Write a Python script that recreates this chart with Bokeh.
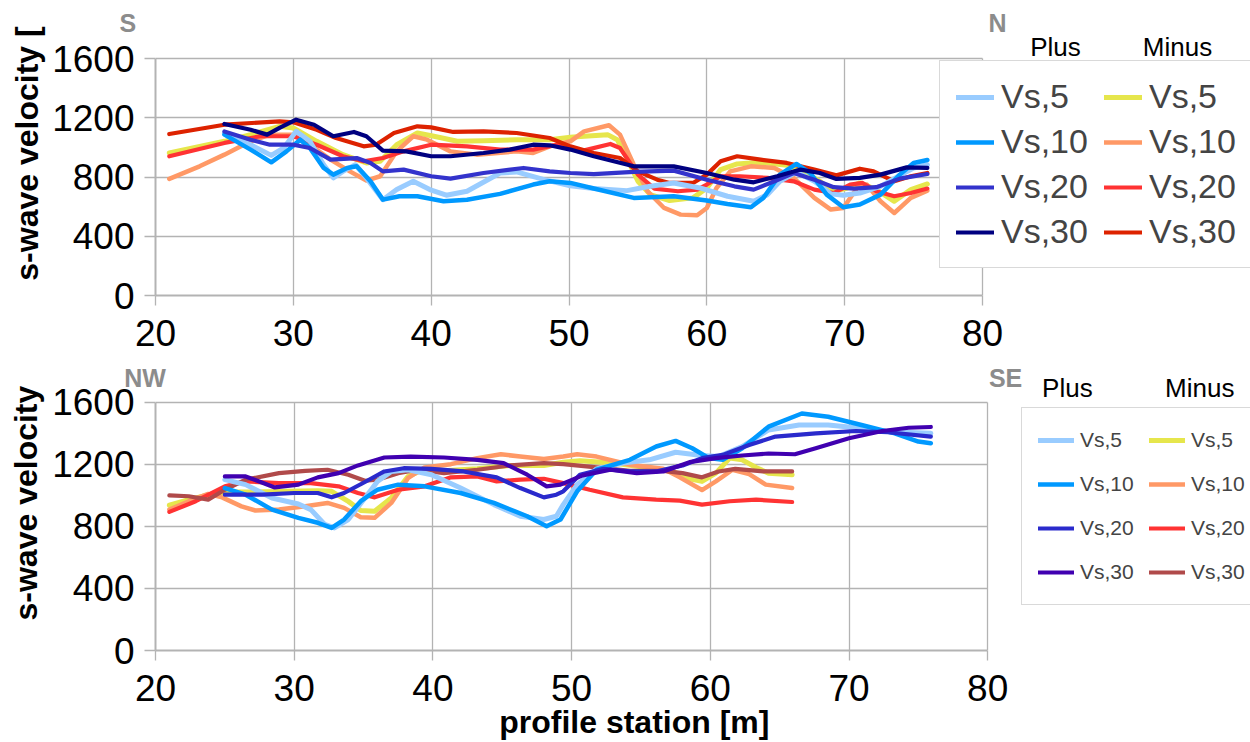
from bokeh.plotting import figure
from bokeh.layouts import column
from bokeh.models import Range1d, FixedTicker, Legend, LegendItem, LinearAxis
from bokeh.embed import file_html
from bokeh.resources import INLINE

# ---------------- data ----------------
x_ticks = [20, 30, 40, 50, 60, 70, 80]
y_ticks = [0, 400, 800, 1200, 1600]
legend_labels = ["Vs,5", "Vs,10", "Vs,20", "Vs,30"]

top_plus_vs5_x = [25, 26.9, 28.4, 29.3, 30.2, 31.2, 32.2, 32.9, 33.6, 34.5, 35.3, 36.5, 37.5, 38.7, 39.9, 41.1, 42.6, 45, 46.2, 48.2, 50.1, 51.8, 54.2, 55.9, 57.6, 59.5, 61.5, 63.4, 64.4, 65.3, 66.5, 67.8, 69, 69.9, 71.1, 72.6, 74, 75, 76]
top_plus_vs5_y = [1097, 1018, 946, 996, 1108, 1041, 883, 794, 838, 883, 794, 647, 715, 771, 715, 677, 704, 827, 834, 782, 740, 722, 708, 737, 760, 726, 670, 636, 681, 771, 834, 771, 686, 677, 692, 737, 811, 861, 883]
top_plus_vs10_x = [25, 26.9, 28.4, 29.5, 30.5, 31.2, 32.2, 32.9, 33.9, 34.6, 35.6, 36.5, 37.7, 39, 40.9, 42.6, 45, 47.4, 48.6, 50.1, 51.8, 54.7, 57.6, 60, 61.5, 63.2, 64.1, 65.3, 66.5, 67.5, 68.7, 69.9, 71.1, 72.6, 74, 75, 76]
top_plus_vs10_y = [1086, 985, 899, 973, 1052, 996, 861, 816, 861, 872, 771, 647, 670, 670, 636, 647, 686, 749, 771, 760, 722, 659, 670, 641, 618, 596, 659, 816, 888, 827, 681, 596, 614, 681, 816, 895, 915]
top_plus_vs20_x = [25, 26.9, 28.3, 30, 31.2, 32.7, 34.6, 35.6, 36.5, 38, 40, 41.4, 43.8, 46.7, 48.6, 50.1, 51.8, 54.7, 57.6, 60, 62, 63.4, 64.9, 66.3, 67.8, 69.2, 70.7, 72.3, 74, 76]
top_plus_vs20_y = [1108, 1052, 1018, 1018, 996, 917, 928, 895, 838, 850, 805, 789, 827, 861, 838, 827, 820, 834, 843, 782, 737, 715, 771, 827, 782, 731, 722, 731, 789, 820]
top_plus_vs30_x = [25, 26.9, 28.1, 29, 30.2, 31.5, 32.9, 34.4, 35.3, 36.5, 38.2, 40, 41.4, 43.8, 45.7, 47.4, 48.6, 50.1, 51.8, 54.7, 57.6, 60, 62, 63.4, 65.1, 66.8, 68.2, 69.4, 71.1, 72.6, 74.5, 76]
top_plus_vs30_y = [1158, 1119, 1086, 1131, 1187, 1153, 1075, 1104, 1075, 978, 973, 940, 940, 962, 985, 1018, 1014, 985, 940, 872, 872, 827, 782, 764, 805, 850, 827, 787, 794, 816, 865, 861]
top_minus_vs5_x = [21, 25, 26.9, 29, 30, 31.7, 33.6, 35.3, 36.3, 37.5, 39, 40.2, 41.9, 43.8, 46.2, 48.6, 50.1, 51.1, 52.8, 53.5, 54.2, 55, 55.9, 57.3, 59, 60, 61, 62.2, 63.9, 65.8, 66.8, 68.2, 69.2, 70.2, 71.1, 72.3, 73.6, 74.8, 76]
top_minus_vs5_y = [962, 1041, 1086, 1142, 1131, 1041, 951, 895, 906, 1018, 1097, 1075, 1041, 1045, 1052, 1052, 1068, 1075, 1086, 1052, 928, 771, 681, 641, 659, 726, 850, 888, 899, 879, 850, 771, 704, 726, 760, 715, 636, 715, 753]
top_minus_vs10_x = [21, 23.2, 25, 26.9, 28.3, 30, 31.2, 32.7, 34.1, 35.3, 36.3, 37.5, 38.7, 39.7, 41.4, 43.3, 46.2, 47.4, 48.6, 50.1, 51.1, 52.9, 53.7, 54.7, 55.7, 56.9, 58.1, 59.3, 60, 60.7, 61.7, 63.2, 64.9, 66.3, 67.8, 69, 69.9, 70.9, 71.6, 72.6, 73.6, 74.8, 76]
top_minus_vs10_y = [787, 872, 951, 1041, 1086, 1086, 1018, 917, 838, 776, 805, 973, 1075, 1052, 973, 951, 973, 962, 1007, 1041, 1108, 1149, 1086, 883, 704, 591, 546, 542, 591, 726, 838, 872, 861, 794, 659, 580, 591, 726, 749, 636, 557, 659, 708]
top_minus_vs20_x = [21, 25, 27.6, 30, 31.7, 33.6, 35.1, 36.5, 38, 40, 42.6, 45, 47.4, 49.4, 50.8, 53, 53.7, 55, 56.2, 57.9, 59.3, 60, 61, 62.4, 64.4, 66.3, 67.8, 69.2, 70.4, 71.3, 72.3, 73.6, 74.8, 76]
top_minus_vs20_y = [940, 1030, 1075, 1075, 1018, 940, 906, 928, 973, 1018, 1007, 985, 985, 1023, 973, 1023, 996, 816, 722, 704, 715, 749, 805, 805, 794, 771, 715, 692, 749, 760, 704, 670, 692, 722]
top_minus_vs30_x = [21, 25, 29, 30, 31.7, 33.1, 35.1, 36, 37.3, 39, 40, 41.6, 43.8, 46.2, 48.6, 50.1, 51.8, 53.7, 55, 56.4, 57.3, 59, 60, 61, 62.2, 63.9, 65.8, 67.8, 69.4, 71.1, 72.1, 73.6, 74.8, 76]
top_minus_vs30_y = [1090, 1153, 1176, 1169, 1119, 1063, 1007, 1018, 1097, 1142, 1135, 1104, 1108, 1097, 1063, 1007, 962, 928, 838, 782, 760, 760, 816, 906, 940, 917, 895, 850, 811, 856, 838, 771, 805, 827]

bot_plus_vs5_x = [25, 26.5, 28.4, 30.3, 31.2, 32.2, 32.9, 33.9, 35.1, 36, 37, 38.2, 39.9, 42, 44.4, 46.3, 48, 48.9, 49.4, 50.4, 51.8, 53.7, 55.6, 57.5, 59.4, 60.6, 62.3, 64.2, 66.4, 68.5, 70.9, 72.8, 75.9]
bot_plus_vs5_y = [1102, 1070, 984, 945, 909, 813, 791, 845, 984, 1091, 1155, 1166, 1134, 1048, 941, 866, 845, 866, 941, 1070, 1172, 1209, 1230, 1279, 1258, 1251, 1316, 1423, 1455, 1455, 1434, 1412, 1401]
bot_plus_vs10_x = [25, 26.5, 28.4, 30.3, 31.7, 32.7, 33.6, 34.8, 36, 37.5, 39.4, 42, 44.4, 46.8, 48.2, 49.2, 50.4, 51.8, 54.2, 56.1, 57.5, 58.7, 59.9, 60.9, 62.3, 64.2, 66.6, 68.5, 70.9, 73.3, 75, 75.9]
bot_plus_vs10_y = [1048, 1005, 909, 856, 824, 791, 845, 963, 1037, 1070, 1059, 1016, 952, 866, 802, 845, 1027, 1166, 1230, 1316, 1352, 1305, 1241, 1230, 1305, 1444, 1529, 1508, 1455, 1401, 1348, 1337]
bot_plus_vs20_x = [25, 27.7, 30, 31.7, 32.7, 33.6, 35.1, 36.5, 37.9, 39.9, 42.2, 44.6, 46.3, 48, 48.9, 49.4, 50.6, 52.3, 54.2, 56.1, 58, 59.4, 60.9, 62.8, 64.7, 67.6, 70.5, 72.8, 75.9]
bot_plus_vs20_y = [1005, 1005, 1016, 1016, 988, 1016, 1087, 1155, 1176, 1172, 1155, 1117, 1048, 988, 1005, 1027, 1134, 1172, 1155, 1155, 1194, 1241, 1262, 1326, 1380, 1401, 1416, 1408, 1380]
bot_plus_vs30_x = [25, 26.5, 28.6, 30.3, 31.7, 33.2, 34.6, 36.5, 38.4, 40.8, 43.2, 45.1, 46.8, 48.2, 49.2, 50.8, 52.8, 54.7, 56.6, 58.5, 60.4, 62.3, 64.2, 66.1, 67.6, 70, 72.4, 74.3, 75.9]
bot_plus_vs30_y = [1123, 1123, 1052, 1070, 1117, 1144, 1194, 1245, 1251, 1245, 1230, 1209, 1134, 1059, 1070, 1130, 1166, 1144, 1155, 1215, 1241, 1258, 1271, 1266, 1305, 1369, 1416, 1437, 1442]
bot_minus_vs5_x = [21, 22.4, 24.1, 25, 27.2, 29.6, 31.7, 32.7, 33.9, 34.8, 35.8, 37, 38.2, 39.1, 40.8, 43.2, 45.6, 48, 49.4, 50.6, 53, 55.4, 57.3, 58.5, 59.4, 60.4, 61.4, 62.3, 63.3, 64.2, 65.9]
bot_minus_vs5_y = [937, 973, 1010, 1022, 1022, 1027, 1031, 1027, 962, 903, 898, 984, 1123, 1159, 1159, 1172, 1194, 1194, 1215, 1224, 1209, 1181, 1155, 1108, 1091, 1144, 1241, 1230, 1181, 1144, 1134]
bot_minus_vs10_x = [21, 22.4, 23.8, 24.8, 26.2, 27.2, 28.9, 30.8, 32.4, 33.6, 34.8, 35.8, 37, 38.2, 39.4, 41.3, 43.2, 44.9, 46.3, 48, 49.4, 50.4, 51.8, 54.2, 56.6, 57.8, 59.4, 60.4, 61.6, 62.8, 64, 65.9]
bot_minus_vs10_y = [909, 963, 1010, 988, 930, 903, 909, 930, 952, 920, 860, 856, 952, 1112, 1181, 1202, 1241, 1266, 1251, 1236, 1251, 1266, 1251, 1198, 1172, 1117, 1035, 1091, 1166, 1138, 1070, 1048]
bot_minus_vs20_x = [21, 22.9, 25, 26.5, 28.9, 31.2, 33.2, 34.6, 35.8, 37.5, 39.4, 41.3, 43.2, 44.6, 46.3, 48, 49.4, 51.3, 53.7, 56.1, 57.8, 59.4, 61.4, 63.3, 65.9]
bot_minus_vs20_y = [894, 963, 1059, 1091, 1080, 1080, 1059, 1016, 988, 1037, 1059, 1117, 1123, 1091, 1102, 1108, 1080, 1037, 988, 973, 967, 941, 963, 973, 958]
bot_minus_vs30_x = [21, 22.4, 23.8, 25, 26.5, 28.9, 30.8, 32.4, 33.9, 35.1, 36, 37.5, 38.9, 40.8, 43.2, 45.6, 48, 49.4, 51.8, 54.2, 56.6, 58, 59.4, 60.6, 61.8, 63.8, 65.9]
bot_minus_vs30_y = [1001, 995, 973, 1037, 1102, 1144, 1159, 1166, 1134, 1095, 1102, 1144, 1166, 1144, 1166, 1194, 1209, 1202, 1181, 1159, 1159, 1144, 1117, 1155, 1172, 1155, 1155]

# ---------------- styling ----------------
GRID = "#b3b3b3"
FONT = "Liberation Sans"
GREY_TXT = "#8c8c8c"
NB = "\u00a0"
top_plus_colors = ["#99ccff", "#0099ff", "#3333cc", "#000080"]
top_minus_colors = ["#e6e64c", "#ff9966", "#ff3333", "#dd2200"]
bot_plus_colors = ["#99ccff", "#0099ff", "#2a2acc", "#4000b0"]
bot_minus_colors = ["#e6e64c", "#ff9966", "#ff3333", "#b04a4a"]
widths = [5, 4.5, 4.2, 4.2]


def make_panel(height, frame_left, frame_top, frame_bottom, x_per_px, y_top_extra, x_standoff):
    """frame spans frame_left..1250 horizontally; data box is x 20..80, y 0..1600."""
    frame_w = 1250 - frame_left
    frame_h = frame_bottom - frame_top
    x_end = 20 + frame_w * x_per_px
    p = figure(width=1250, height=height, output_backend="svg", toolbar_location=None,
               title_location=None,
               x_range=Range1d(20, x_end), y_range=Range1d(0, 1600 + y_top_extra),
               min_border_left=frame_left, min_border_right=0,
               min_border_top=frame_top, min_border_bottom=height - frame_bottom)
    p.extra_x_ranges = {"px": Range1d(0, frame_w)}
    p.extra_y_ranges = {"py": Range1d(0, frame_h)}
    p.background_fill_color = "white"
    p.border_fill_color = "white"
    p.outline_line_color = None
    xa, ya = p.below[0], p.left[0]
    xa.ticker = FixedTicker(ticks=x_ticks)
    ya.ticker = FixedTicker(ticks=y_ticks)
    xa.bounds = (20, 80)
    ya.bounds = (0, 1600)
    for ax in (xa, ya):
        ax.axis_line_color = GRID
        ax.axis_line_width = 2
        ax.major_tick_line_color = GRID
        ax.major_tick_line_width = 1.3
        ax.major_tick_in = 0
        ax.minor_tick_line_color = None
        ax.major_label_text_font = FONT
        ax.major_label_text_font_size = "37px"
        ax.major_label_text_color = "black"
    xa.major_tick_out = 10
    ya.major_tick_out = 11
    xa.major_label_standoff = x_standoff
    ya.major_label_standoff = 10
    xg, yg = p.xgrid[0], p.ygrid[0]
    for g in (xg, yg):
        g.grid_line_color = GRID
        g.grid_line_width = 1.3
    try:
        xg.cross_bounds = (0, 1600)
        yg.cross_bounds = (20, 80)
    except Exception:
        yg.visible = False
        xg.visible = False
        p.segment(x0=x_ticks[1:], x1=x_ticks[1:], y0=[0] * 6, y1=[1600] * 6,
                  line_color=GRID, line_width=1.3)
        p.segment(x0=[20] * 4, x1=[80] * 4, y0=y_ticks[1:], y1=y_ticks[1:],
                  line_color=GRID, line_width=1.3)
    return p


def text_axis(p, side, ticks, labels, size, bold, color, standoff, orientation="horizontal"):
    if side in ("above", "below"):
        ax = LinearAxis(x_range_name="px")
    else:
        ax = LinearAxis(y_range_name="py")
    ax.ticker = FixedTicker(ticks=ticks, minor_ticks=[])
    ax.major_label_overrides = {t: l for t, l in zip(ticks, labels)}
    ax.bounds = (min(ticks), max(ticks) + 4)
    ax.axis_line_color = None
    ax.major_tick_line_color = None
    ax.minor_tick_line_color = None
    ax.major_tick_out = 0
    ax.major_tick_in = 0
    ax.major_label_standoff = standoff
    ax.major_label_text_font = FONT
    ax.major_label_text_font_size = size
    ax.major_label_text_font_style = "bold" if bold else "normal"
    ax.major_label_text_color = color
    ax.major_label_orientation = orientation
    p.add_layout(ax, side)
    return ax


def draw_lines(p, series, colors):
    return [p.line(xs, ys, line_color=c, line_width=w, line_join="round", line_cap="round")
            for (xs, ys), c, w in zip(series, colors, widths)]


# ---------------- top panel (S -> N) ----------------
# canvas y 0..360 ; frame x 155..1250, y 52..295 ; data box 155..982 x 58..295
p1 = make_panel(360, 155, 52, 295, 60 / 827, 6 * 1600 / 237, 14)
r_minus = draw_lines(p1, [(top_minus_vs5_x, top_minus_vs5_y), (top_minus_vs10_x, top_minus_vs10_y),
                          (top_minus_vs20_x, top_minus_vs20_y), (top_minus_vs30_x, top_minus_vs30_y)],
                     top_minus_colors)
r_plus = draw_lines(p1, [(top_plus_vs5_x, top_plus_vs5_y), (top_plus_vs10_x, top_plus_vs10_y),
                         (top_plus_vs20_x, top_plus_vs20_y), (top_plus_vs30_x, top_plus_vs30_y)],
                    top_plus_colors)
items = [LegendItem(label=l, renderers=[r]) for l, r in zip(legend_labels, r_plus)] + \
        [LegendItem(label=l, renderers=[r]) for l, r in zip(legend_labels, r_minus)]
p1.add_layout(Legend(items=items, ncols=2, location=(784, 27), margin=0, padding=16, spacing=6,
                     glyph_width=38, glyph_height=20, label_standoff=7, label_width=97,
                     label_text_font=FONT, label_text_font_size="34px",
                     border_line_color=GRID, border_line_width=1.5, background_fill_alpha=1.0))
text_axis(p1, "above", [900, 1022], ["Plus", "Minus"], "26px", False, "black", -9)
text_axis(p1, "above", [0, 842], ["S" + NB * 8, "N"], "25px", True, GREY_TXT, -8)
text_axis(p1, "left", [142], ["s-wave velocity ["], "32px", True, "black", 5, "vertical")

# ---------------- bottom panel (NW -> SE) ----------------
# canvas y 360..742 ; frame x 150..1250, y 397..650 ; data box 150..986 x 401..650
p2 = make_panel(382, 150, 37, 290, 60 / 836, 4 * 1600 / 249, 14)
b_minus = draw_lines(p2, [(bot_minus_vs5_x, bot_minus_vs5_y), (bot_minus_vs10_x, bot_minus_vs10_y),
                          (bot_minus_vs20_x, bot_minus_vs20_y), (bot_minus_vs30_x, bot_minus_vs30_y)],
                     bot_minus_colors)
b_plus = draw_lines(p2, [(bot_plus_vs5_x, bot_plus_vs5_y), (bot_plus_vs10_x, bot_plus_vs10_y),
                         (bot_plus_vs20_x, bot_plus_vs20_y), (bot_plus_vs30_x, bot_plus_vs30_y)],
                    bot_plus_colors)
items2 = [LegendItem(label=l, renderers=[r]) for l, r in zip(legend_labels, b_plus)] + \
         [LegendItem(label=l, renderers=[r]) for l, r in zip(legend_labels, b_minus)]
p2.add_layout(Legend(items=items2, ncols=2, location=(866, 45), margin=0, padding=16, spacing=12,
                     glyph_width=36, glyph_height=20, label_standoff=6, label_width=57, label_height=32,
                     label_text_font=FONT, label_text_font_size="21px",
                     border_line_color=GRID, border_line_width=1.5, background_fill_alpha=1.0))
text_axis(p2, "above", [916, 1049], ["Plus", "Minus"], "26px", False, "black", -4)
text_axis(p2, "above", [0, 854], ["NW" + NB * 3, "SE"], "25px", True, GREY_TXT, -22)
text_axis(p2, "left", [148], ["s-wave velocity"], "32px", True, "black", 5, "vertical")
text_axis(p2, "below", [481], ["profile station [m]"], "32px", True, "black", 0)

layout = column(p1, p2, spacing=0)
open("out.html", "w").write(file_html(layout, INLINE))
